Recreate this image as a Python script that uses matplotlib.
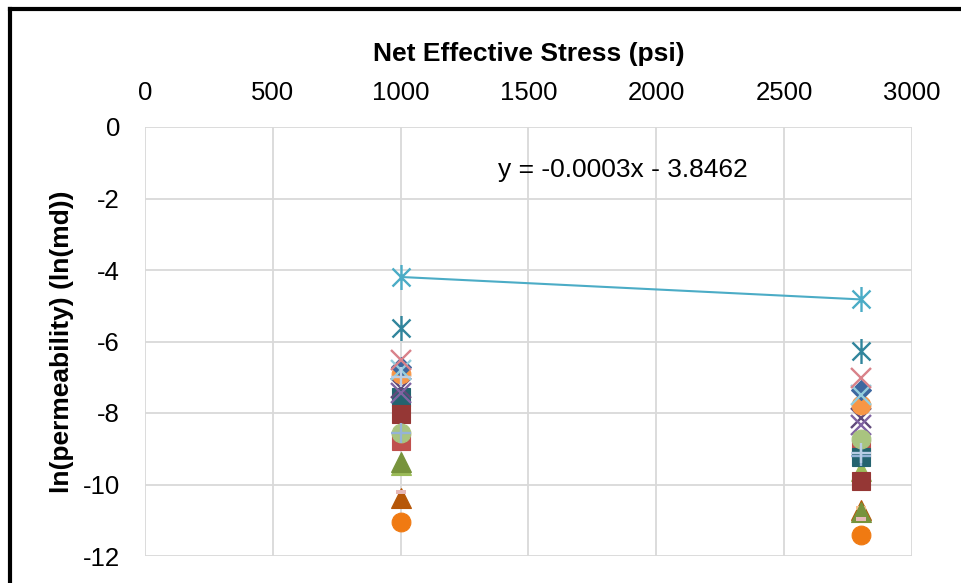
import numpy as np
import matplotlib.pyplot as plt
from matplotlib.path import Path
from matplotlib.lines import Line2D

plt.rcParams['font.family'] = ['Liberation Sans', 'DejaVu Sans']
plt.rcParams['axes.unicode_minus'] = False

# Net effective stress (psi) for every sample
stress = [1000, 2800]

# ln(permeability) at 1000 psi and at 2800 psi, one entry per sample
ln_k_1000 = [-8.78, -9.45, -7.56, -8.03, -10.38, -9.42, -9.36, -10.20, -7.30, -7.44,
             -8.56, -6.91, -6.70, -6.80, -8.56, -6.99, -6.52, -5.62, -4.195, -11.04]
ln_k_2800 = [-9.00, -9.62, -9.22, -9.89, -10.72, -10.66, -10.76, -10.97, -8.15, -8.34,
             -8.72, -7.79, -7.36, -7.50, -9.20, -9.13, -7.02, -6.27, -4.823, -11.41]
trend_idx = 18
trend_text = 'y = -0.0003x - 3.8462'

xticks = [0, 500, 1000, 1500, 2000, 2500, 3000]
yticks = [0, -2, -4, -6, -8, -10, -12]

# markers
star = Path([(0, -1), (0, 1), (-0.72, -0.72), (0.72, 0.72), (-0.72, 0.72), (0.72, -0.72)],
            [Path.MOVETO, Path.LINETO] * 3)
dash = Path([(-1, -0.38), (1, -0.38), (1, 0.38), (-1, 0.38), (-1, -0.38)],
            [Path.MOVETO, Path.LINETO, Path.LINETO, Path.LINETO, Path.CLOSEPOLY])

colors = ['#C0504D', '#9BBB59', '#24636F', '#953735', '#B65708', '#FAC090', '#77933C',
          '#E6B9B8', '#604A7B', '#8064A2', '#A9C47F', '#F79646', '#3D68A0', '#93CDDD',
          '#95B3D7', '#B9CDE5', '#D9828A', '#31859C', '#4BACC6', '#F07A12']
markers = ['s', '^', 's', 's', '^', dash, '^', dash, 'x', 'x',
           'o', 'o', 'D', 'x', '+', '+', 'x', star, star, 'o']

fig = plt.figure(figsize=(9.62, 5.83), dpi=100)
ax = fig.add_axes([145 / 962, 1 - 556 / 583, (912 - 145) / 962, (556 - 127) / 583])

for i in range(len(ln_k_1000)):
    m = markers[i]
    y = [ln_k_1000[i], ln_k_2800[i]]
    if m is star:
        ax.plot(stress, y, linestyle='none', marker=m, markersize=18,
                markeredgewidth=1.7, color=colors[i], zorder=3)
    elif m in ('x', '+'):
        ax.plot(stress, y, linestyle='none', marker=m, markersize=14.5,
                markeredgewidth=1.7, color=colors[i], zorder=3)
    elif m is dash:
        ax.plot(stress, y, linestyle='none', marker=m, markersize=7.5,
                color=colors[i], markeredgewidth=0, zorder=3)
    else:
        ms = {'s': 13.5, '^': 14.5, 'o': 13.5, 'D': 10.5}[m]
        ax.plot(stress, y, linestyle='none', marker=m, markersize=ms,
                color=colors[i], markeredgewidth=0.8, zorder=3)

# linear trendline of the top sample
coef = np.polyfit(stress, [ln_k_1000[trend_idx], ln_k_2800[trend_idx]], 1)
xs = np.array(stress)
ax.plot(xs, np.polyval(coef, xs), color='#4BACC6', lw=1.5, zorder=2)
ax.text(1868, -1.2, trend_text, fontsize=19, ha='center', va='center', zorder=4)

ax.set_xlim(0, 3000)
ax.set_ylim(-12, 0)
ax.set_xticks(xticks)
ax.set_yticks(yticks)
ax.xaxis.tick_top()
ax.xaxis.set_label_position('top')
ax.tick_params(length=0, labelsize=18.5)
ax.tick_params(axis='x', pad=16)
ax.tick_params(axis='y', pad=18)
ax.grid(True, color='#D9D9D9', lw=1.3)
ax.set_axisbelow(True)
for s in ax.spines.values():
    s.set_visible(False)

ax.set_xlabel('Net Effective Stress (psi)', fontsize=19, fontweight='bold', labelpad=14)
ax.set_ylabel('ln(permeability) (ln(md))', fontsize=19, fontweight='bold', labelpad=6)

# outer border of the chart area (cut off at right and bottom)
fig.add_artist(Line2D([10 / 962, 10 / 962], [0, 1 - 9 / 583], transform=fig.transFigure,
                      color='black', lw=3, solid_capstyle='projecting'))
fig.add_artist(Line2D([10 / 962, 1], [1 - 9 / 583, 1 - 9 / 583], transform=fig.transFigure,
                      color='black', lw=3, solid_capstyle='projecting'))

fig.savefig('out.png', dpi=100)
